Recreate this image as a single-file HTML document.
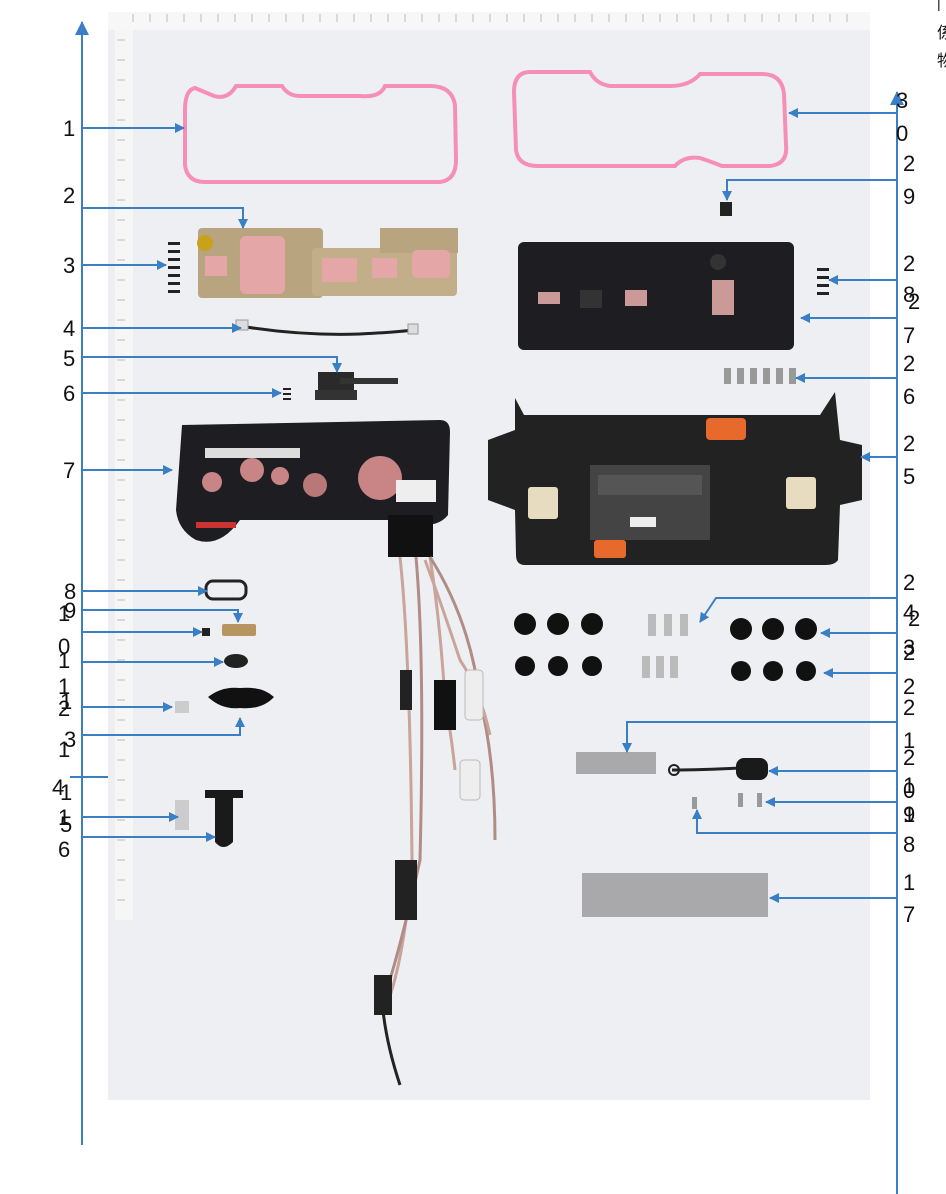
<!DOCTYPE html>
<html><head><meta charset="utf-8"><style>
html,body{margin:0;padding:0;background:#fff;width:946px;height:1194px;overflow:hidden}
svg{display:block}
text{font-family:"Liberation Sans",sans-serif;font-size:22px;fill:#111}
</style></head><body>
<svg width="946" height="1194" viewBox="0 0 946 1194" xmlns="http://www.w3.org/2000/svg">
<defs>
<marker id="a" markerWidth="10" markerHeight="10" refX="9" refY="5" orient="auto" markerUnits="userSpaceOnUse"><path d="M0,0 L10,5 L0,10 z" fill="#3a7fc4"/></marker>
<marker id="b" markerWidth="14" markerHeight="14" refX="13" refY="7" orient="auto" markerUnits="userSpaceOnUse"><path d="M0,0 L14,7 L0,14 z" fill="#3a7fc4"/></marker>
</defs>
<!-- photo background -->
<rect x="108" y="12" width="762" height="1088" fill="#eeeff2"/>
<rect x="108" y="12" width="762" height="18" fill="#f7f7f7"/>
<rect x="115" y="30" width="18" height="890" fill="#f6f6f6"/>
<g stroke="#bbb" stroke-width="1">
<path d="M133,14 v8 M150,14 v8 M167,14 v8 M184,14 v8 M201,14 v8 M218,14 v8 M235,14 v8 M252,14 v8 M269,14 v8 M286,14 v8 M303,14 v8 M320,14 v8 M337,14 v8 M354,14 v8 M371,14 v8 M388,14 v8 M405,14 v8 M422,14 v8 M439,14 v8 M456,14 v8 M473,14 v8 M490,14 v8 M507,14 v8 M524,14 v8 M541,14 v8 M558,14 v8 M575,14 v8 M592,14 v8 M609,14 v8 M626,14 v8 M643,14 v8 M660,14 v8 M677,14 v8 M694,14 v8 M711,14 v8 M728,14 v8 M745,14 v8 M762,14 v8 M779,14 v8 M796,14 v8 M813,14 v8 M830,14 v8 M847,14 v8"/>
</g>
<path d="M117,40 h8 M117,60 h8 M117,80 h8 M117,100 h8 M117,120 h8 M117,140 h8 M117,160 h8 M117,180 h8 M117,200 h8 M117,220 h8 M117,240 h8 M117,260 h8 M117,280 h8 M117,300 h8 M117,320 h8 M117,340 h8 M117,360 h8 M117,380 h8 M117,400 h8 M117,420 h8 M117,440 h8 M117,460 h8 M117,480 h8 M117,500 h8 M117,520 h8 M117,540 h8 M117,560 h8 M117,580 h8 M117,600 h8 M117,620 h8 M117,640 h8 M117,660 h8 M117,680 h8 M117,700 h8 M117,720 h8 M117,740 h8 M117,760 h8 M117,780 h8 M117,800 h8 M117,820 h8 M117,840 h8 M117,860 h8 M117,880 h8 M117,900 h8" stroke="#bbb"/>

<!-- gaskets -->
<path d="M195,88 Q185,90 185,110 L185,165 Q187,182 205,182 L440,182 Q456,180 456,160 L455,105 Q452,86 430,86 L385,86 Q380,98 360,96 L300,96 Q288,96 282,86 L236,86 Q228,100 214,96 Z" fill="none" stroke="#f58fb8" stroke-width="4"/>
<path d="M530,72 Q514,72 514,92 L516,150 Q518,166 538,166 L675,166 Q684,156 700,158 Q712,162 722,166 L770,166 Q788,164 786,145 L784,94 Q782,74 762,74 L700,74 Q690,86 670,86 L610,86 Q596,84 590,72 Z" fill="none" stroke="#f58fb8" stroke-width="4"/>

<!-- PCB 2 -->
<rect x="198" y="228" width="125" height="70" rx="4" fill="#b8a580"/>
<rect x="312" y="248" width="145" height="48" rx="4" fill="#c2ae88"/>
<rect x="380" y="228" width="78" height="25" fill="#b8a580"/>
<rect x="240" y="236" width="45" height="58" rx="6" fill="#e4a6a6"/>
<rect x="205" y="256" width="22" height="20" fill="#e4a6a6"/>
<rect x="322" y="258" width="35" height="24" fill="#e4a6a6"/>
<rect x="372" y="258" width="25" height="20" fill="#e4a6a6"/>
<rect x="412" y="250" width="38" height="28" rx="5" fill="#e4a6a6"/>
<circle cx="205" cy="243" r="8" fill="#c9a11a"/>
<!-- screws 3 -->
<g fill="#222"><rect x="168" y="242" width="12" height="3"/><rect x="168" y="250" width="12" height="3"/><rect x="168" y="258" width="12" height="3"/><rect x="168" y="266" width="12" height="3"/><rect x="168" y="274" width="12" height="3"/><rect x="168" y="282" width="12" height="3"/><rect x="168" y="290" width="12" height="3"/></g>
<!-- cable 4 -->
<path d="M240,326 Q300,336 360,334 Q400,332 412,330" stroke="#222" stroke-width="3" fill="none"/>
<rect x="236" y="320" width="12" height="10" fill="#ddd" stroke="#999"/>
<rect x="408" y="324" width="10" height="10" fill="#ddd" stroke="#999"/>
<!-- part 5 -->
<path d="M318,372 h36 v22 h-36 z" fill="#2a2a2a"/>
<rect x="340" y="378" width="58" height="6" fill="#333"/>
<rect x="315" y="390" width="42" height="10" fill="#333"/>
<!-- screws 6 -->
<g fill="#222"><rect x="283" y="388" width="8" height="2"/><rect x="283" y="393" width="8" height="2"/><rect x="283" y="398" width="8" height="2"/></g>
<!-- housing 7 -->
<path d="M182,425 L440,420 Q450,420 450,432 L448,515 Q440,525 425,525 L392,520 L240,520 Q220,548 196,540 Q178,530 176,510 Z" fill="#1e1e22"/>
<rect x="205" y="448" width="95" height="10" fill="#ddd"/>
<circle cx="252" cy="470" r="12" fill="#c98585"/><circle cx="212" cy="482" r="10" fill="#c98585"/><circle cx="280" cy="476" r="9" fill="#c98585"/><circle cx="315" cy="485" r="12" fill="#b87878"/><circle cx="380" cy="478" r="22" fill="#c98585"/>
<rect x="196" y="522" width="40" height="6" fill="#c33"/>
<rect x="396" y="480" width="40" height="22" fill="#eee"/>
<rect x="388" y="515" width="45" height="42" fill="#111"/>
<!-- cables -->
<g fill="none" stroke-width="3">
<path d="M400,557 Q410,650 412,860 Q405,960 385,1010" stroke="#c9a49a"/>
<path d="M416,557 Q425,660 420,860 Q398,960 380,1010" stroke="#b08c86"/>
<path d="M430,557 Q440,620 445,700 Q452,740 455,770" stroke="#c9a49a"/>
<path d="M430,557 Q470,620 480,700 Q495,760 495,840" stroke="#b08c86"/>
<path d="M425,560 Q440,600 460,660 Q480,690 490,735" stroke="#c9a49a"/>
<path d="M382,1000 Q385,1040 400,1085" stroke="#222"/>
</g>
<rect x="434" y="680" width="22" height="50" fill="#111"/>
<rect x="465" y="670" width="18" height="50" rx="4" fill="#eee" stroke="#bbb"/>
<rect x="460" y="760" width="20" height="40" rx="4" fill="#eee" stroke="#bbb"/>
<rect x="400" y="670" width="12" height="40" fill="#222"/>
<rect x="395" y="860" width="22" height="60" fill="#222"/>
<rect x="374" y="975" width="18" height="40" fill="#222"/>
<!-- small parts 8-16 -->
<rect x="206" y="581" width="40" height="18" rx="7" fill="none" stroke="#222" stroke-width="3"/>
<rect x="222" y="624" width="34" height="12" rx="2" fill="#b89560"/>
<rect x="202" y="628" width="8" height="8" fill="#222"/>
<ellipse cx="236" cy="661" rx="12" ry="7" fill="#222"/>
<path d="M208,697 Q222,686 240,688 Q262,686 274,697 Q262,710 240,708 Q222,710 208,697 Z" fill="#111"/>
<rect x="175" y="701" width="14" height="12" fill="#ccc"/>
<path d="M205,790 h38 v8 h-10 v44 q-10,10 -18,0 v-44 h-10 z" fill="#1a1a1a"/>
<rect x="175" y="800" width="14" height="30" fill="#ccc"/>

<!-- right: connector 29 -->
<rect x="720" y="202" width="12" height="14" fill="#222"/>
<!-- housing 27 -->
<rect x="518" y="242" width="276" height="108" rx="6" fill="#1e1e22"/>
<rect x="538" y="292" width="22" height="12" fill="#c99"/><rect x="625" y="290" width="22" height="16" fill="#c99"/><rect x="712" y="280" width="22" height="35" fill="#c99"/><rect x="580" y="290" width="22" height="18" fill="#333"/>
<circle cx="718" cy="262" r="8" fill="#333"/>
<!-- screws 28 -->
<g fill="#222"><rect x="817" y="268" width="12" height="3"/><rect x="817" y="276" width="12" height="3"/><rect x="817" y="284" width="12" height="3"/><rect x="817" y="292" width="12" height="3"/></g>
<!-- screws 26 -->
<g fill="#999"><rect x="724" y="368" width="7" height="16"/><rect x="737" y="368" width="7" height="16"/><rect x="750" y="368" width="7" height="16"/><rect x="763" y="368" width="7" height="16"/><rect x="776" y="368" width="7" height="16"/><rect x="789" y="368" width="7" height="16"/></g>
<!-- board 25 -->
<path d="M515,398 L524,415 L820,415 L835,392 L840,440 L862,445 L862,500 L840,505 L838,560 Q835,565 825,565 L525,565 Q516,565 516,555 L515,510 L488,500 L488,440 L515,430 Z" fill="#222"/>
<rect x="706" y="418" width="40" height="22" rx="4" fill="#e76a2c"/>
<rect x="594" y="540" width="32" height="18" rx="3" fill="#e76a2c"/>
<rect x="528" y="487" width="30" height="32" rx="3" fill="#e8dcc0"/>
<rect x="786" y="477" width="30" height="32" rx="3" fill="#e8dcc0"/>
<rect x="590" y="465" width="120" height="75" fill="#444"/>
<rect x="598" y="475" width="104" height="20" fill="#555"/>
<rect x="630" y="517" width="26" height="10" fill="#eee"/>
<!-- grommets -->
<g fill="#111">
<circle cx="525" cy="624" r="11"/><circle cx="558" cy="624" r="11"/><circle cx="592" cy="624" r="11"/>
<circle cx="525" cy="666" r="10"/><circle cx="558" cy="666" r="10"/><circle cx="592" cy="666" r="10"/>
<circle cx="741" cy="629" r="11"/><circle cx="773" cy="629" r="11"/><circle cx="806" cy="629" r="11"/>
<circle cx="741" cy="671" r="10"/><circle cx="773" cy="671" r="10"/><circle cx="806" cy="671" r="10"/>
</g>
<g fill="#bbb"><rect x="648" y="614" width="8" height="22"/><rect x="664" y="614" width="8" height="22"/><rect x="680" y="614" width="8" height="22"/><rect x="642" y="656" width="8" height="22"/><rect x="656" y="656" width="8" height="22"/><rect x="670" y="656" width="8" height="22"/></g>
<rect x="576" y="752" width="80" height="22" fill="#a9a9ab"/>
<path d="M672,770 Q700,770 740,768" stroke="#222" stroke-width="3" fill="none"/><circle cx="674" cy="770" r="5" fill="none" stroke="#222" stroke-width="2"/>
<rect x="736" y="758" width="32" height="22" rx="8" fill="#1a1a1a"/>
<rect x="738" y="793" width="5" height="14" fill="#999"/><rect x="757" y="793" width="5" height="14" fill="#999"/><rect x="692" y="797" width="5" height="12" fill="#999"/>
<rect x="582" y="873" width="186" height="44" fill="#a9a9ab"/>

<!-- leader lines -->
<g stroke="#3a7fc4" stroke-width="2" fill="none">
<path d="M82,1145 V22" marker-end="url(#b)"/>
<path d="M897,1194 V92" marker-end="url(#b)"/>
<path d="M82,128 H184" marker-end="url(#a)"/>
<path d="M82,208 H243 V228" marker-end="url(#a)"/>
<path d="M82,265 H166" marker-end="url(#a)"/>
<path d="M82,328 H241" marker-end="url(#a)"/>
<path d="M82,357 H337 V372" marker-end="url(#a)"/>
<path d="M82,393 H281" marker-end="url(#a)"/>
<path d="M82,470 H172" marker-end="url(#a)"/>
<path d="M82,591 H207" marker-end="url(#a)"/>
<path d="M82,610 H238 V622" marker-end="url(#a)"/>
<path d="M82,632 H202" marker-end="url(#a)"/>
<path d="M82,662 H223" marker-end="url(#a)"/>
<path d="M82,707 H172" marker-end="url(#a)"/>
<path d="M82,735 H240 V718" marker-end="url(#a)"/>
<path d="M70,777 H108"/>
<path d="M82,817 H178" marker-end="url(#a)"/>
<path d="M82,837 H215" marker-end="url(#a)"/>
<path d="M897,113 H789" marker-end="url(#a)"/>
<path d="M897,180 H727 V200" marker-end="url(#a)"/>
<path d="M897,280 H829" marker-end="url(#a)"/>
<path d="M897,318 H801" marker-end="url(#a)"/>
<path d="M897,378 H796" marker-end="url(#a)"/>
<path d="M897,457 H861" marker-end="url(#a)"/>
<path d="M897,598 H716 L700,622" marker-end="url(#a)"/>
<path d="M897,633 H821" marker-end="url(#a)"/>
<path d="M897,673 H824" marker-end="url(#a)"/>
<path d="M897,722 H627 V752" marker-end="url(#a)"/>
<path d="M897,771 H769" marker-end="url(#a)"/>
<path d="M897,802 H766" marker-end="url(#a)"/>
<path d="M897,833 H697 V810" marker-end="url(#a)"/>
<path d="M897,898 H770" marker-end="url(#a)"/>
</g>

<!-- left labels -->
<text x="63" y="136">1</text>
<text x="63" y="203">2</text>
<text x="63" y="273">3</text>
<text x="63" y="336">4</text>
<text x="63" y="366">5</text>
<text x="63" y="401">6</text>
<text x="63" y="478">7</text>
<text x="64" y="599">8</text>
<text x="58" y="621">1</text><text x="64" y="618">9</text>
<text x="58" y="654">0</text>
<text x="58" y="668">1</text>
<text x="58" y="694">1</text>
<text x="58" y="716">2</text><text x="60" y="709">1</text>
<text x="58" y="757">1</text><text x="64" y="747">3</text>
<text x="52" y="795">4</text><text x="60" y="800">1</text>
<text x="58" y="825">1</text><text x="60" y="832">5</text>
<text x="58" y="857">6</text>
<!-- right labels -->
<text x="896" y="108">3</text><text x="896" y="141">0</text>
<text x="903" y="171">2</text><text x="903" y="204">9</text>
<text x="903" y="271">2</text><text x="903" y="302">8</text>
<text x="908" y="309">2</text><text x="903" y="343">7</text>
<text x="903" y="371">2</text><text x="903" y="404">6</text>
<text x="903" y="451">2</text><text x="903" y="484">5</text>
<text x="903" y="590">2</text><text x="903" y="620">4</text><text x="908" y="626">2</text>
<text x="903" y="660">2</text><text x="903" y="655">3</text>
<text x="903" y="694">2</text>
<text x="903" y="715">2</text><text x="903" y="748">1</text>
<text x="903" y="765">2</text><text x="903" y="793">1</text><text x="903" y="798">0</text>
<text x="903" y="822">9</text><text x="903" y="822">1</text>
<text x="903" y="852">8</text>
<text x="903" y="890">1</text><text x="903" y="922">7</text>
<text x="937" y="8" style="font-size:14px">|</text>
<text x="937" y="38" style="font-size:16px">係</text>
<text x="937" y="66" style="font-size:16px">物</text>
</svg>
</body></html>
